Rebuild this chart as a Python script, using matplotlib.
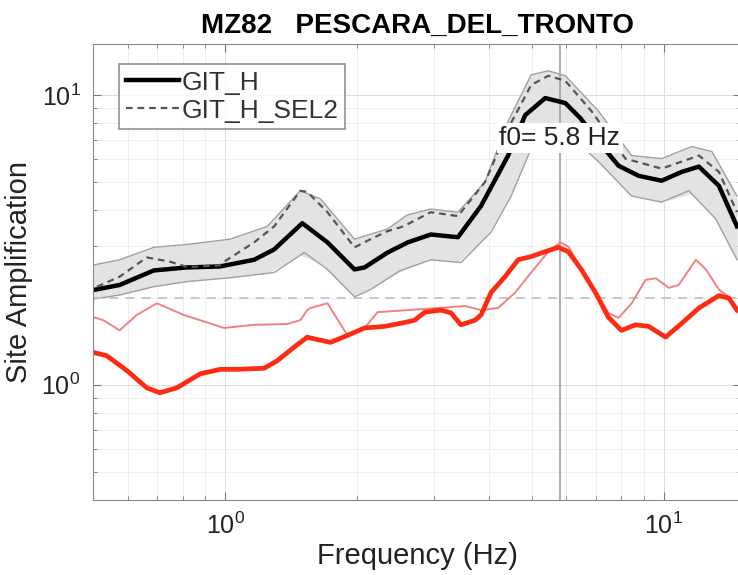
import numpy as np
import matplotlib.pyplot as plt
from matplotlib.ticker import LogLocator, NullFormatter

plt.rcParams['font.family'] = ['Liberation Sans', 'DejaVu Sans']

# GIT_H mean curve
f_git = [0.483, 0.575, 0.688, 0.819, 0.974, 1.165, 1.294, 1.50, 1.712, 1.973,
         2.08, 2.348, 2.61, 2.945, 3.395, 3.833, 4.419, 4.833, 5.37, 5.967,
         6.457, 7.10, 7.89, 8.77, 9.89, 11.0, 12.03, 13.36, 14.69]
a_git = [2.10, 2.21, 2.48, 2.54, 2.56, 2.70, 2.93, 3.61, 3.10, 2.50,
         2.54, 2.86, 3.10, 3.30, 3.23, 4.14, 6.18, 8.52, 9.76, 9.38,
         8.32, 6.90, 5.70, 5.26, 5.06, 5.43, 5.66, 4.86, 3.52]

# +/- one sigma envelope
f_up = [0.483, 0.575, 0.688, 0.819, 1.027, 1.248, 1.484, 1.65, 1.973, 2.348,
        2.6, 2.945, 3.395, 3.915, 4.419, 4.988, 5.456, 5.967, 7.10, 8.45,
        9.89, 11.59, 12.88, 14.69]
a_up = [2.56, 2.70, 2.98, 3.05, 3.18, 3.52, 4.67, 4.38, 3.18, 3.45,
        3.85, 4.04, 3.94, 5.01, 8.12, 11.74, 12.12, 11.65, 8.80, 6.18,
        6.03, 6.64, 6.38, 4.48]
f_lo = [0.483, 0.575, 0.688, 0.819, 1.027, 1.294, 1.516, 1.712, 1.973, 2.147,
        2.5, 2.945, 3.45, 4.04, 4.49, 4.988, 5.456, 5.967, 7.10, 8.45,
        9.89, 11.41, 13.15, 14.69]
a_lo = [1.96, 2.04, 2.18, 2.27, 2.34, 2.44, 2.86, 2.50, 2.01, 2.13,
        2.47, 2.70, 2.64, 3.36, 4.48, 6.54, 7.86, 7.49, 5.89, 4.48,
        4.27, 4.67, 3.73, 2.70]

# GIT_H_SEL2
f_sel = [0.483, 0.575, 0.663, 0.748, 0.82, 0.97, 1.011, 1.165, 1.294, 1.484,
         1.54, 1.712, 1.973, 2.147, 2.348, 2.55, 2.945, 3.395, 3.915, 4.419,
         4.988, 5.456, 5.967, 6.843, 8.18, 9.89, 12.03, 13.36, 14.69]
a_sel = [2.10, 2.36, 2.75, 2.66, 2.55, 2.58, 2.70, 3.10, 3.52, 4.67,
         4.63, 3.94, 2.98, 3.18, 3.39, 3.52, 3.94, 3.82, 5.01, 7.67,
         10.83, 11.65, 11.19, 8.80, 6.03, 5.57, 6.18, 5.43, 3.94]

# red curves
f_r1 = [0.483, 0.537, 0.597, 0.663, 0.710, 0.777, 0.877, 0.974, 1.065, 1.228,
        1.315, 1.439, 1.54, 1.565, 1.739, 1.902, 2.08, 2.311, 2.568, 2.707,
        2.854, 3.105, 3.273, 3.45, 3.714, 3.833, 4.04, 4.348, 4.658, 4.988,
        5.37, 5.75, 6.06, 6.49, 6.99, 7.48, 8.01, 8.63, 9.24, 10.1,
        11.0, 12.03, 13.36, 14.08, 14.69]
a_r1 = [1.31, 1.26, 1.12, 0.976, 0.938, 0.976, 1.09, 1.13, 1.13, 1.14,
        1.21, 1.35, 1.46, 1.45, 1.40, 1.48, 1.57, 1.59, 1.64, 1.67,
        1.78, 1.81, 1.77, 1.61, 1.67, 1.74, 2.08, 2.36, 2.70, 2.77,
        2.88, 2.98, 2.88, 2.50, 2.08, 1.71, 1.54, 1.61, 1.59, 1.46,
        1.63, 1.84, 2.03, 1.99, 1.81]
f_r2 = [0.483, 0.528, 0.575, 0.629, 0.699, 0.806, 0.877, 0.995, 1.165, 1.387,
        1.484, 1.54, 1.565, 1.712, 1.902, 2.08, 2.227, 2.61, 3.056, 3.524,
        3.833, 4.193, 4.585, 4.988, 5.456, 5.81, 6.06, 6.63, 7.10, 7.48,
        7.89, 8.45, 9.09, 9.59, 10.27, 10.82, 11.84, 12.48, 13.36, 14.08,
        14.69]
a_r2 = [1.74, 1.67, 1.54, 1.74, 1.91, 1.74, 1.67, 1.57, 1.61, 1.62,
        1.67, 1.81, 1.84, 1.91, 1.48, 1.57, 1.78, 1.81, 1.84, 1.87,
        1.81, 1.84, 2.08, 2.44, 2.88, 3.10, 3.00, 2.36, 2.01, 1.77,
        1.70, 1.91, 2.30, 2.33, 2.16, 2.21, 2.70, 2.50, 2.13, 2.01,
        1.84]

f0 = 5.8

fig = plt.figure(figsize=(7.38, 5.75), dpi=100)
ax = fig.add_axes([0.126, 0.1304, 0.878, 0.7931])

ax.fill_between(f_up, a_up, np.interp(f_up, f_lo, a_lo), color='#e3e3e3', lw=0)
ax.plot(f_up, a_up, color='#a0a0a0', lw=1)
ax.plot(f_lo, a_lo, color='#a0a0a0', lw=1)

ax.axhline(2, color='#c4c4c4', lw=1.3, dashes=(5, 4))
ax.axvline(f0, color='#a0a0a0', lw=1.2)

ax.plot(f_r2, a_r2, color='#f28282', lw=1.4)
ax.plot(f_r1, a_r1, color='#ff2a12', lw=3.4)

h1, = ax.plot(f_git, a_git, color='black', lw=3.2, label='GIT_H')
h2, = ax.plot(f_sel, a_sel, color='#555555', lw=1.6, dashes=(3, 2.2),
              label='GIT_H_SEL2')

ax.text(f0, 7.1, 'f0= 5.8 Hz', ha='center', va='center', fontsize=19,
        color='#222222',
        bbox=dict(facecolor='white', edgecolor='none', pad=2))

ax.set_xscale('log')
ax.set_yscale('log')
ax.set_xlim(0.5, 15)
ax.set_ylim(0.4, 15)
ax.xaxis.set_minor_locator(LogLocator(subs=np.arange(2, 10)))
ax.yaxis.set_minor_locator(LogLocator(subs=np.arange(2, 10)))
ax.xaxis.set_minor_formatter(NullFormatter())
ax.yaxis.set_minor_formatter(NullFormatter())

ax.grid(True, which='major', color='#dcdcdc', lw=0.7)
ax.grid(True, which='minor', color='#ececec', lw=0.6)
ax.set_axisbelow(True)

ax.tick_params(which='both', direction='in', top=True, right=True,
               colors='#777777', labelcolor='#222222', labelsize=18)
ax.tick_params(which='major', length=6, pad=9)
ax.tick_params(which='minor', length=3)
for s in ax.spines.values():
    s.set_color('#8a8a8a')

ax.set_xlabel('Frequency (Hz)', fontsize=21, color='#222222', labelpad=2)
ax.set_ylabel('Site Amplification', fontsize=21, color='#222222', labelpad=6)
ax.set_title('MZ82   PESCARA_DEL_TRONTO', fontsize=20, fontweight='bold',
             pad=8)

leg = ax.legend(handles=[h1, h2], loc='upper left', fontsize=19,
                frameon=True, fancybox=False, handlelength=2.0,
                handletextpad=0.1, borderpad=0.25, labelspacing=0.15,
                bbox_to_anchor=(0.02, 0.985))
leg.get_frame().set_edgecolor('#777777')
leg.get_frame().set_linewidth(1.2)
for t in leg.get_texts():
    t.set_color('#333333')

fig.savefig('out.png', dpi=100)
